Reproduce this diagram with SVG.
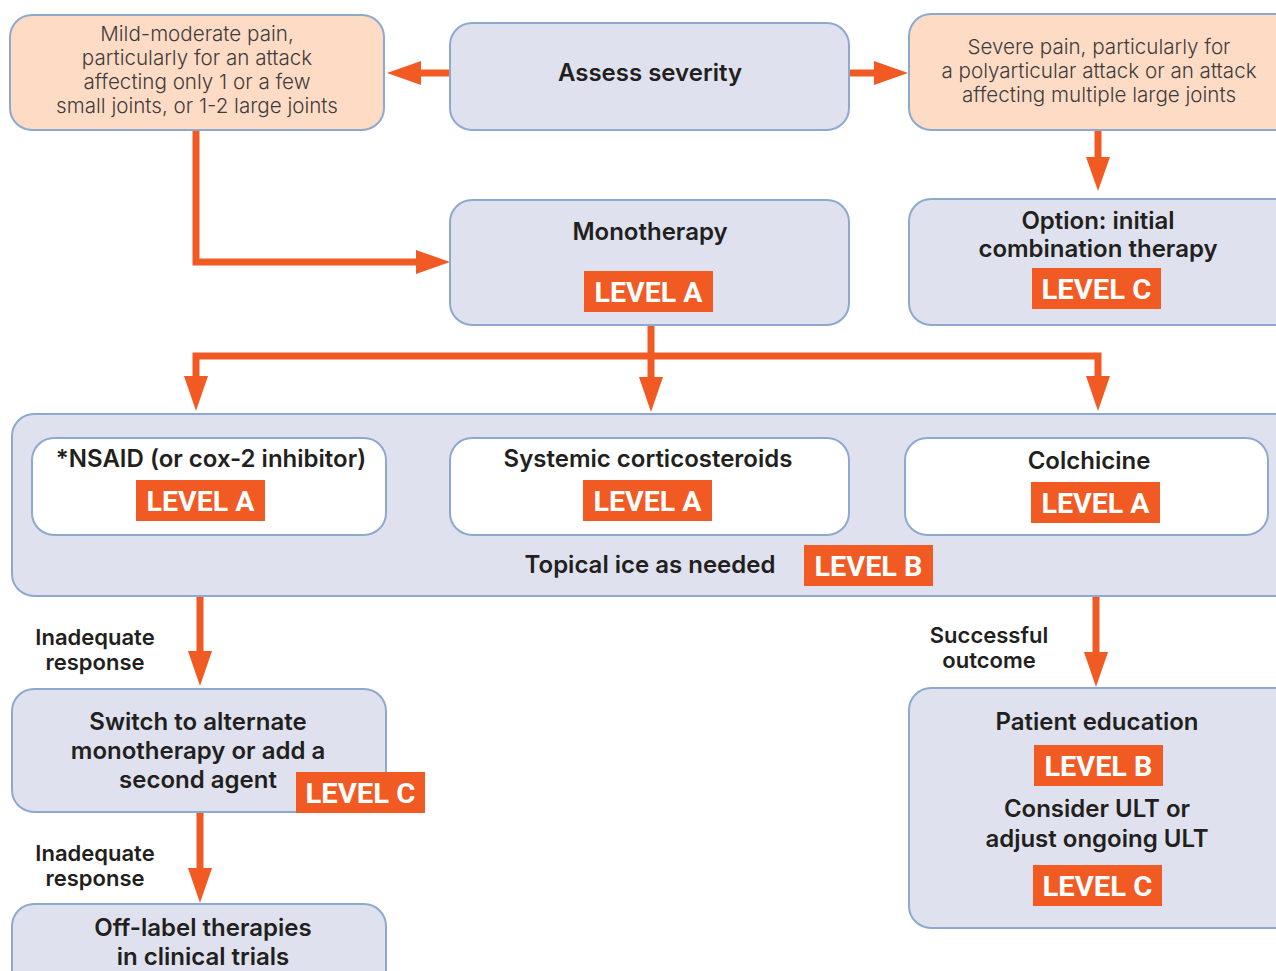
<svg xmlns="http://www.w3.org/2000/svg" width="1276" height="971" viewBox="0 0 1276 971">
<style>
.box{fill:#dfe2ee;stroke:#8ea9d0;stroke-width:2}
.peach{fill:#fddbc4;stroke:#8ea9d0;stroke-width:2}
.white{fill:#ffffff;stroke:#8ea9d0;stroke-width:2}
.t{font-family:Inter,"Noto Sans",sans-serif;font-weight:600;font-size:24px;fill:#231f20;text-anchor:middle}
.lt{font-family:Inter,"Noto Sans",sans-serif;font-weight:300;font-size:20.6px;fill:#3d3b3c;text-anchor:middle}
.lbl{font-family:Inter,"Noto Sans",sans-serif;font-weight:600;font-size:22px;fill:#231f20;text-anchor:middle}
.badge{fill:#f15a22}
.bt{font-family:Roboto,"Liberation Sans",sans-serif;font-weight:700;font-size:28px;fill:#ffffff;text-anchor:middle}
.ln{fill:none;stroke:#f15a22;stroke-width:7}
.ah{fill:#f15a22}
</style>
<defs>
<g id="lvA"><rect class="badge" x="0" y="0" width="129" height="41"/><text class="bt" x="64.5" y="31" textLength="108" lengthAdjust="spacingAndGlyphs">LEVEL A</text></g>
<g id="lvB"><rect class="badge" x="0" y="0" width="129" height="41"/><text class="bt" x="64.5" y="31" textLength="108" lengthAdjust="spacingAndGlyphs">LEVEL B</text></g>
<g id="lvC"><rect class="badge" x="0" y="0" width="129" height="41"/><text class="bt" x="64.5" y="31" textLength="110" lengthAdjust="spacingAndGlyphs">LEVEL C</text></g>
</defs>

<g id="connectors">
<line class="ln" x1="450" y1="73" x2="418" y2="73"/>
<polygon class="ah" points="387,73 421,61 421,85"/>
<line class="ln" x1="849" y1="73" x2="878" y2="73"/>
<polygon class="ah" points="908,73 874,61 874,85"/>
<line class="ln" x1="1098" y1="130" x2="1098" y2="162"/>
<polygon class="ah" points="1098,191 1086,157 1110,157"/>
<polyline class="ln" points="196,130 196,262 420,262"/>
<polygon class="ah" points="450,262 416,250 416,274"/>
<line class="ln" x1="651" y1="325" x2="651" y2="382"/>
<polygon class="ah" points="651,412 639,377 663,377"/>
<polyline class="ln" points="196,382 196,356 1098,356 1098,382"/>
<polygon class="ah" points="196,411 184,376 208,376"/>
<polygon class="ah" points="1098,411 1086,376 1110,376"/>
<line class="ln" x1="200" y1="596" x2="200" y2="656"/>
<polygon class="ah" points="200,686 188,651 212,651"/>
<line class="ln" x1="1096" y1="596" x2="1096" y2="656"/>
<polygon class="ah" points="1096,687 1084,652 1108,652"/>
<line class="ln" x1="200" y1="812" x2="200" y2="872"/>
<polygon class="ah" points="200,903 188,868 212,868"/>
<text class="lbl" x="95" y="645">Inadequate</text>
<text class="lbl" x="95" y="670">response</text>
<text class="lbl" x="989" y="643">Successful</text>
<text class="lbl" x="989" y="668">outcome</text>
<text class="lbl" x="95" y="861">Inadequate</text>
<text class="lbl" x="95" y="886">response</text>
</g>

<g id="mild">
<rect class="peach" x="10" y="15" width="374" height="115" rx="22"/>
<text class="lt" x="197" y="41">Mild-moderate pain,</text>
<text class="lt" x="197" y="65">particularly for an  attack</text>
<text class="lt" x="197" y="89">affecting only 1 or a few</text>
<text class="lt" x="197" y="113">small joints, or 1-2 large joints</text>
</g>

<g id="assess">
<rect class="box" x="450" y="23" width="399" height="107" rx="22"/>
<text class="t" x="650" y="81">Assess severity</text>
</g>

<g id="severe">
<rect class="peach" x="909" y="14" width="390" height="116" rx="22"/>
<text class="lt" x="1099" y="54">Severe pain, particularly for</text>
<text class="lt" x="1099" y="78">a polyarticular attack or an attack</text>
<text class="lt" x="1099" y="102">affecting multiple large joints</text>
</g>

<g id="monotherapy">
<rect class="box" x="450" y="200" width="399" height="125" rx="22"/>
<text class="t" x="650" y="240">Monotherapy</text>
<use href="#lvA" x="584" y="271"/>
</g>

<g id="option">
<rect class="box" x="909" y="199" width="390" height="126" rx="22"/>
<text class="t" x="1098" y="229">Option: initial</text>
<text class="t" x="1098" y="257">combination therapy</text>
<use href="#lvC" x="1032" y="268"/>
</g>

<g id="treatments">
<rect class="box" x="12" y="414" width="1290" height="182" rx="22"/>
<text class="t" x="650" y="573">Topical ice as needed</text>
<use href="#lvB" x="804" y="545"/>
</g>

<g id="nsaid">
<rect class="white" x="32" y="438" width="354" height="97" rx="22"/>
<text class="t" x="211" y="467">*NSAID (or cox-2 inhibitor)</text>
<use href="#lvA" x="136" y="480"/>
</g>

<g id="steroids">
<rect class="white" x="450" y="438" width="399" height="97" rx="22"/>
<text class="t" x="648" y="467">Systemic corticosteroids</text>
<use href="#lvA" x="583" y="480"/>
</g>

<g id="colchicine">
<rect class="white" x="905" y="438" width="363" height="97" rx="22"/>
<text class="t" x="1089" y="469">Colchicine</text>
<use href="#lvA" x="1031" y="482"/>
</g>

<g id="switch">
<rect class="box" x="12" y="689" width="374" height="123" rx="22"/>
<text class="t" x="198" y="730">Switch to alternate</text>
<text class="t" x="198" y="759">monotherapy or add a</text>
<text class="t" x="198" y="788">second agent</text>
<use href="#lvC" x="296" y="772"/>
</g>

<g id="offlabel">
<rect class="box" x="12" y="904" width="374" height="90" rx="22"/>
<text class="t" x="203" y="936">Off-label therapies</text>
<text class="t" x="203" y="965">in clinical trials</text>
</g>

<g id="education">
<rect class="box" x="909" y="688" width="390" height="240" rx="22"/>
<text class="t" x="1097" y="730">Patient education</text>
<use href="#lvB" x="1034" y="745"/>
<text class="t" x="1097" y="817">Consider ULT or</text>
<text class="t" x="1097" y="847">adjust ongoing ULT</text>
<use href="#lvC" x="1033" y="865"/>
</g>
</svg>
